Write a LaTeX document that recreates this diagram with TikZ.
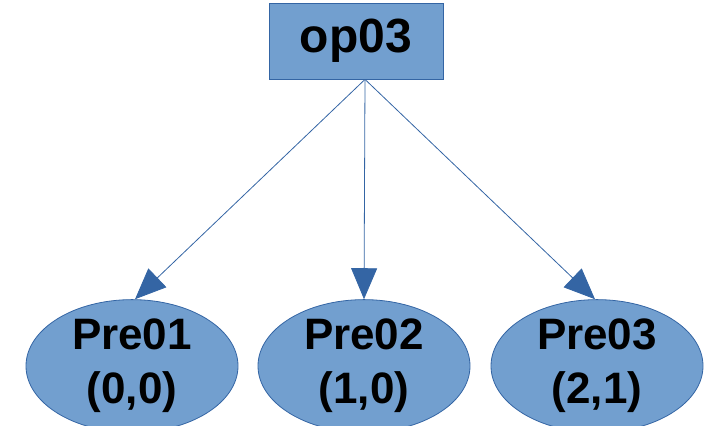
\documentclass[tikz,border=0pt]{standalone}
\usepackage{fontspec}
\setmainfont{Liberation Sans}
\usetikzlibrary{arrows.meta,shapes.geometric,calc}
\definecolor{boxfill}{HTML}{729FCF}
\definecolor{boxline}{HTML}{3465A4}
\begin{document}
\begin{tikzpicture}[x=1pt,y=1pt,
  opbox/.style={draw=boxline,fill=boxfill,line width=0.8pt,minimum width=174pt,minimum height=76pt,inner sep=0pt,font=\fontsize{48}{54}\selectfont\bfseries},
  prenode/.style={ellipse,draw=boxline,fill=boxfill,line width=0.8pt,minimum width=212pt,minimum height=116pt,inner sep=0pt,align=center,font=\fontsize{44}{54}\selectfont\bfseries},
  link/.style={draw=boxline,line width=0.8pt,-{Triangle[length=31pt,width=26pt]}}]
\useasboundingbox (0,0) rectangle (711,425);
\node[opbox] (op) at (356,384) {op03};
\node[prenode] (p1) at (132,59) {Pre01\\(0,0)};
\node[prenode] (p2) at (364,59) {Pre02\\(1,0)};
\node[prenode] (p3) at (597,59) {Pre03\\(2,1)};
\coordinate (src) at ($(op.south)+(9,0)$);
\draw[link] (src) -- ($(p1.north)+(3,0)$);
\draw[link] (src) -- (p2.north);
\draw[link] (src) -- ($(p3.north)+(-2,0)$);
\end{tikzpicture}
\end{document}
